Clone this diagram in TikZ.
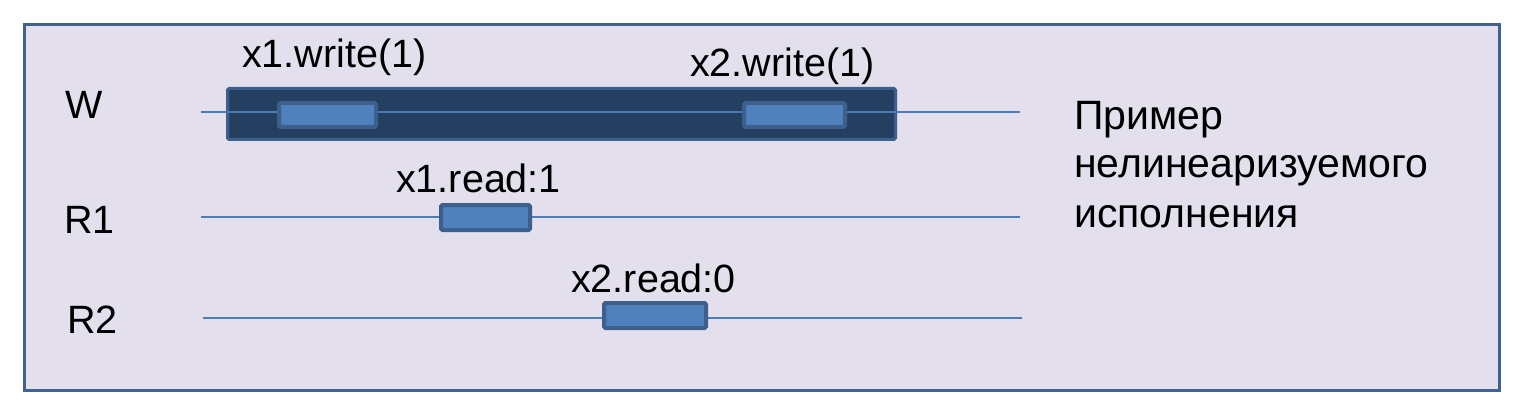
\documentclass[tikz,border=0pt]{standalone}
\usepackage{fontspec}
\setmainfont{Liberation Sans}
\definecolor{bgfill}{HTML}{E4DFEC}
\definecolor{frame}{HTML}{41618F}
\definecolor{darkbar}{HTML}{243F60}
\definecolor{darkedge}{HTML}{3D5F8E}
\definecolor{opfill}{HTML}{4F81BD}
\definecolor{opedge}{HTML}{3C5F8C}
\definecolor{tline}{HTML}{4A7EBB}
\tikzset{
  lbl/.style={anchor=base west, inner sep=0pt, font=\fontsize{39.5}{47}\selectfont},
  captxt/.style={anchor=base west, inner sep=0pt, font=\fontsize{41}{48}\selectfont},
  timeline/.style={draw=tline, line width=1.3pt},
  opbox/.style={draw=opedge, fill=opfill, line width=4pt, rounded corners=1.5pt},
}
\begin{document}
\begin{tikzpicture}[x=1pt,y=-1pt]
\useasboundingbox (0,0) rectangle (1518,417);
\fill[white] (0,0) rectangle (1518,417);
\draw[frame, fill=bgfill, line width=3pt] (24,25) rectangle (1499,390);
% W
\node[lbl] (lw) at (65,119) {W};
\coordinate (w0) at (201,112);
\coordinate (w1) at (1020,112);
\draw[timeline] (w0) -- (w1);
\draw[darkedge, fill=darkbar, line width=3pt, rounded corners=1.5pt] (227.5,88.5) rectangle (895.5,139.5);
\draw[tline, line width=1.3pt] (227,112) -- (896,112);
\draw[opbox] (279,103) rectangle (376,127);
\draw[opbox] (744,103) rectangle (845,127);
\node[lbl] (t1) at (242,68) {x1.write(1)};
\node[lbl] (t2) at (690,77) {x2.write(1)};
% R1
\node[lbl] (lr1) at (64,233) {R1};
\coordinate (r10) at (201,217);
\coordinate (r11) at (1020,217);
\draw[timeline] (r10) -- (r11);
\draw[opbox] (441,205) rectangle (530,230);
\node[lbl] (t3) at (396,192) {x1.read:1};
% R2
\node[lbl] (lr2) at (67,333) {R2};
\coordinate (r20) at (203,318);
\coordinate (r21) at (1022,318);
\draw[timeline] (r20) -- (r21);
\draw[opbox] (604,303) rectangle (706,328);
\node[lbl] (t4) at (571,292) {x2.read:0};
% caption
\node[captxt] (c1) at (1074,130) {Пример};
\node[captxt] (c2) at (1074,178) {нелинеаризуемого};
\node[captxt] (c3) at (1074,227) {исполнения};
\end{tikzpicture}
\end{document}
